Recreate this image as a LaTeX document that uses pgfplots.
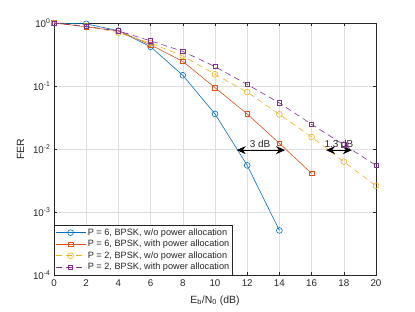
\documentclass[border=0pt]{standalone}
\usepackage{pgfplots}
\pgfplotsset{compat=1.18}
\usetikzlibrary{arrows.meta}
\usepackage{fontspec}
\setmainfont{Liberation Sans}
\definecolor{mblue}{rgb}{0,0.447,0.741}
\definecolor{mred}{rgb}{0.85,0.325,0.098}
\definecolor{myel}{rgb}{0.929,0.694,0.125}
\definecolor{mpur}{rgb}{0.494,0.184,0.556}
\definecolor{axgray}{rgb}{0.15,0.15,0.15}
\begin{document}
\begin{tikzpicture}[x=1bp,y=1bp]
\begin{axis}[
  at={(0,0)}, anchor=south west,
  scale only axis, width=322bp, height=252bp,
  xmin=0, xmax=20, ymin=1e-4, ymax=1,
  ymode=log, log basis y=10,
  xtick={0,2,...,20},
  ytick={1e-4,1e-3,1e-2,1e-1,1},
  yticklabels={10\textsuperscript{-4},10\textsuperscript{-3},10\textsuperscript{-2},10\textsuperscript{-1},10\textsuperscript{0}},
  /pgf/number format/assume math mode=true,
  tick label style={font=\fontsize{9.8}{11}\selectfont, text=axgray},
  xticklabel style={yshift=-1.5bp},
  xlabel={E\textsubscript{b}/N\textsubscript{0} (dB)},
  ylabel={FER},
  label style={font=\fontsize{10.5}{12}\selectfont, text=axgray},
  xlabel style={yshift=-2bp},
  ylabel style={yshift=2bp},
  axis line style={axgray, line width=0.5bp},
  tick style={axgray, line width=0.5bp},
  major tick length=3bp, minor tick length=1.8bp,
  tick align=inside,
  grid=both,
  major grid style={color=black!13, line width=0.5bp},
  minor y grid style={color=black!35, line width=0.6bp, dash pattern=on 0.7bp off 2bp},
  minor x tick num=0,
  legend style={at={(rel axis cs:0,0)}, anchor=south west, font=\fontsize{9.2}{10.5}\selectfont,
    draw=axgray, line width=0.5bp, fill=white, inner xsep=1bp, inner ysep=1.5bp,
    row sep=-0.6bp, cells={anchor=west, text=axgray}},
  legend image code/.code={
    \draw[mark repeat=2,mark phase=2,#1] plot coordinates {(0bp,0bp) (15bp,0bp) (30bp,0bp)};},
  clip=false,
]
\addplot[mblue, line width=0.6bp, mark=o, mark size=2.9bp, mark options={solid}] coordinates {
(0,1.0) (2,0.97) (4,0.755) (6,0.42) (8,0.148) (10,0.036) (12,0.0055) (14,5.1e-4)};
\addlegendentry{P = 6, BPSK, w/o power allocation}
\addplot[mred, line width=0.6bp, mark=square, mark size=2.3bp, mark options={solid}] coordinates {
(0,1.0) (2,0.87) (4,0.75) (6,0.45) (8,0.246) (10,0.094) (12,0.036) (14,0.0123) (16,0.0041)};
\addlegendentry{P = 6, BPSK, with power allocation}
\addplot[myel, line width=0.6bp, dash pattern=on 6bp off 4bp, mark=o, mark size=2.9bp, mark options={solid}] coordinates {
(0,1.0) (2,0.9) (4,0.70) (6,0.48) (8,0.30) (10,0.153) (12,0.080) (14,0.0355) (16,0.0155) (18,0.0063) (20,0.0026)};
\addlegendentry{P = 2, BPSK, w/o power allocation}
\addplot[mpur, line width=0.6bp, dash pattern=on 6bp off 4bp, mark=square, mark size=2.1bp, mark options={solid}] coordinates {
(0,1.0) (2,0.88) (4,0.75) (6,0.52) (8,0.355) (10,0.203) (12,0.106) (14,0.054) (16,0.0246) (18,0.0117) (20,0.0055)};
\addlegendentry{P = 2, BPSK, with power allocation}
\draw[black, line width=0.8bp, {Stealth[length=9bp,width=8bp]}-{Stealth[length=9bp,width=8bp]}] (axis cs:11.35,0.0096) -- (axis cs:14.35,0.0096);
\node[font=\fontsize{10}{11}\selectfont, anchor=south, inner sep=0.5bp, text=axgray] at (axis cs:12.8,0.0102) {3 dB};
\draw[black, line width=0.8bp, {Stealth[length=9bp,width=8bp]}-{Stealth[length=9bp,width=8bp]}] (axis cs:16.9,0.0096) -- (axis cs:18.5,0.0096);
\node[font=\fontsize{10}{11}\selectfont, anchor=south, inner sep=0.5bp, text=axgray] at (axis cs:17.7,0.0102) {1.3 dB};
\end{axis}
\pgfresetboundingbox
\useasboundingbox (-54bp,-37bp) rectangle (361bp,275bp);
\end{tikzpicture}
\end{document}
